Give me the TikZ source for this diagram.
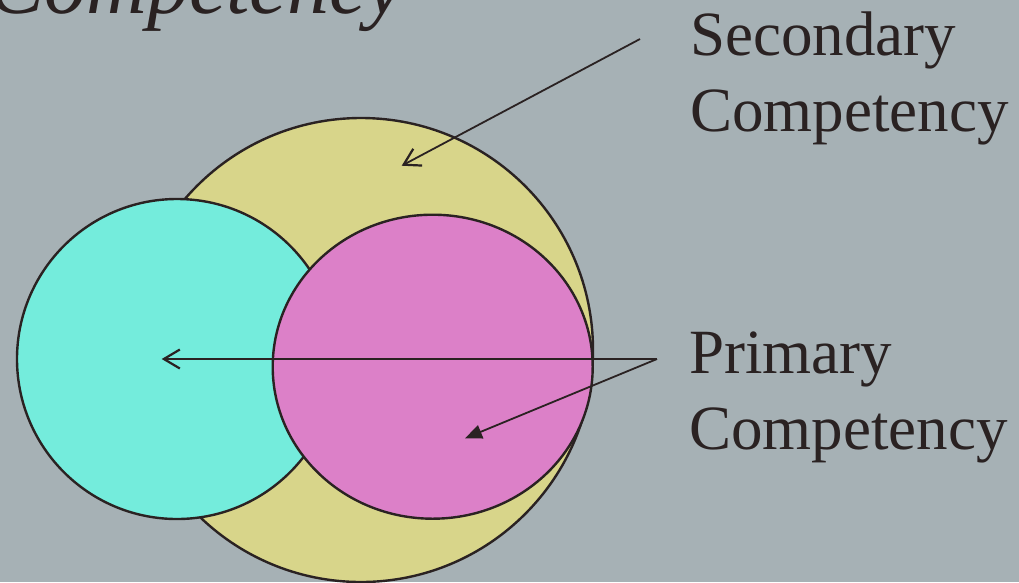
\documentclass[tikz,border=0pt]{standalone}
\usepackage{fontspec}
\setmainfont{Liberation Serif}
\usetikzlibrary{arrows.meta,shapes.geometric}
\definecolor{bg}{RGB}{166,177,181}
\definecolor{yel}{RGB}{216,213,138}
\definecolor{cyn}{RGB}{116,236,220}
\definecolor{pnk}{RGB}{220,128,200}
\definecolor{ink}{RGB}{42,34,34}
\tikzset{
  blob/.style={circle,draw=ink,line width=2.4pt,inner sep=0pt},
  oval/.style={ellipse,draw=ink,line width=2.4pt,inner sep=0pt},
  label text/.style={text=ink,inner sep=0pt,align=left,font=\fontsize{63}{75.5}\selectfont},
  pointer/.style={draw=ink,line width=1.8pt},
  openhead/.style={-{Straight Barb[length=16pt,width=19pt,line width=2.2pt]}},
  fillhead/.style={-{Triangle[length=17pt,width=14pt]}}
}
\begin{document}
\begin{tikzpicture}[x=1pt,y=-1pt]
\useasboundingbox[fill=bg] (0,0) rectangle (1019,582);
% circles
\node[blob,fill=yel,minimum size=464pt] (sec) at (361,350) {};
\node[blob,fill=cyn,minimum size=320pt] (other) at (177,359) {};
\node[oval,fill=pnk,minimum width=320pt,minimum height=304pt] (prim) at (432.7,366.7) {};
% texts
\node[text=ink,inner sep=0pt,anchor=base east,font=\fontsize{84}{100}\selectfont\itshape] (title) at (404,13) {Competency};
\node[label text,anchor=north west] (seclab) at (690,12) {Secondary\\Competency};
\node[label text,anchor=north west] (primlab) at (689,332) {Primary\\Competency};
% connector end points
\coordinate (secStart) at (640,39);
\coordinate (secTip) at (401.7,165.7);
\coordinate (primStart) at (657,359);
\coordinate (otherTip) at (161.7,359);
\coordinate (primTip) at (465,438.3);
% connectors
\draw[pointer,openhead] (secStart) -- (secTip);
\draw[pointer,line width=2.8pt,-{Straight Barb[length=16pt,width=19pt,line width=2.2pt]}] (primStart) -- (otherTip);
\draw[pointer,fillhead] (primStart) -- (primTip);
\end{tikzpicture}
\end{document}
